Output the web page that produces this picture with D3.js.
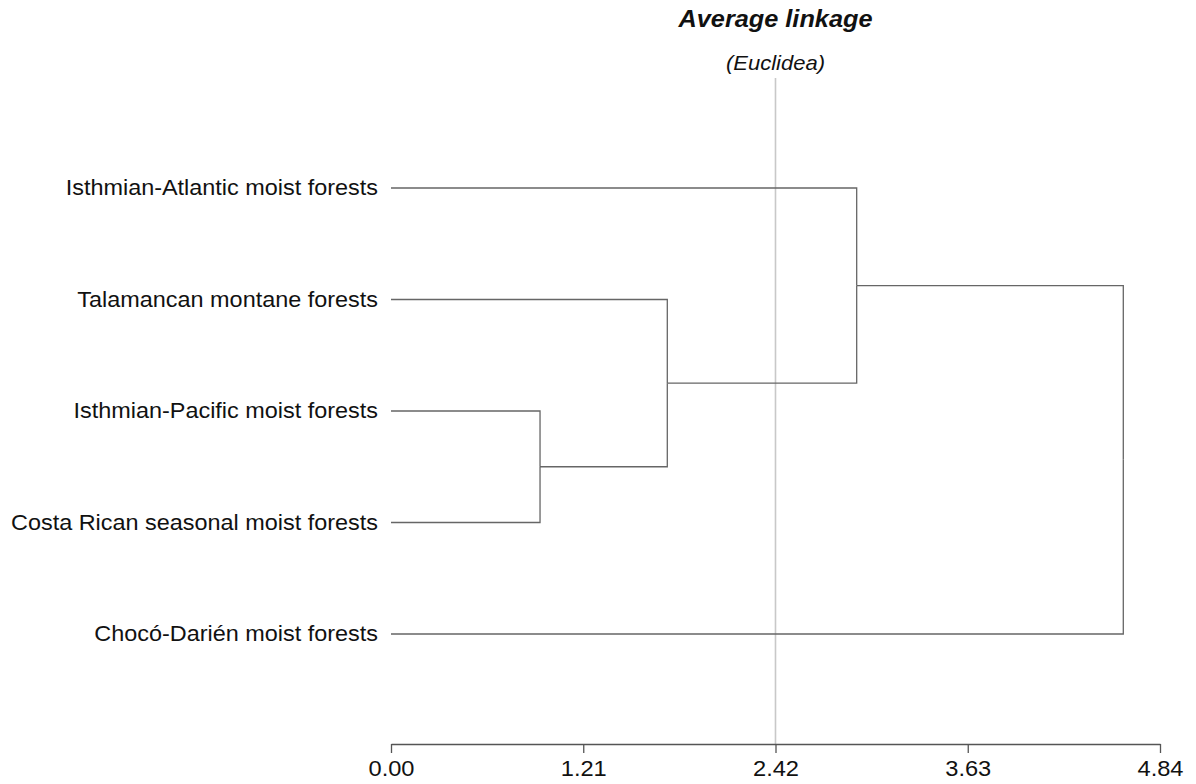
<!DOCTYPE html>
<html>
<head>
<meta charset="utf-8">
<script src="https://cdn.jsdelivr.net/npm/d3@7"></script>
<style>
  html, body { margin: 0; padding: 0; background: #fff; }
  svg { display: block; font-family: "Liberation Sans", Arial, sans-serif; }
</style>
</head>
<body>
<svg id="chart" width="1196" height="784"></svg>
<script>
// Leaf labels, top to bottom
const leaves = [
  "Isthmian-Atlantic moist forests",
  "Talamancan montane forests",
  "Isthmian-Pacific moist forests",
  "Costa Rican seasonal moist forests",
  "Chocó-Darién moist forests"
];
// Agglomeration steps (hclust style: negative = leaf index, positive = earlier step)
const mergeA = [-3, -2, -1, 3];
const mergeB = [-4, 1, 2, -5];
const mergeHeight = [0.938, 1.739, 2.931, 4.609];
// Axis
const axisTicks = [0.00, 1.21, 2.42, 3.63, 4.84];
const refLine = 2.42;

const svg = d3.select("#chart");
const x = d3.scaleLinear().domain([0, 4.84]).range([391, 1160]);
const y = d3.scaleLinear().domain([0, leaves.length + 1]).range([76.5, 745.5]);
const textStretch = 1.1;

// Build nested tree from the merge table
const steps = [];
function ref(v) {
  return v < 0 ? { name: leaves[-v - 1], order: -v, height: 0 } : steps[v - 1];
}
mergeA.forEach((a, i) => {
  steps.push({ height: mergeHeight[i], children: [ref(a), ref(mergeB[i])] });
});
const root = d3.hierarchy(steps[steps.length - 1]);

// Positions: leaves at their order, inner nodes at the mid-point of children
root.eachAfter(n => {
  n.px = x(n.data.height);
  if (!n.children) n.py = y(n.data.order);
  else n.py = d3.mean(n.children, c => c.py);
});

// Reference line
svg.append("line")
  .attr("x1", x(refLine)).attr("x2", x(refLine))
  .attr("y1", 78).attr("y2", y(leaves.length + 1) - 1.5)
  .attr("stroke", "#c8c8c8").attr("stroke-width", 1.6);

// Dendrogram links (elbows)
const g = svg.append("g")
  .attr("fill", "none").attr("stroke", "#666").attr("stroke-width", 1.3);
root.descendants().filter(n => n.parent).forEach(n => {
  g.append("path")
    .attr("d", `M${n.px},${n.py}H${n.parent.px}V${n.parent.py}`);
});

// Leaf labels
root.leaves().forEach(n => {
  svg.append("text")
    .attr("transform", `translate(378,${n.py + 7}) scale(${textStretch},1)`)
    .attr("text-anchor", "end")
    .attr("font-size", 21.3)
    .attr("fill", "#111")
    .text(n.data.name);
});

// Bottom axis
const axisY = y(leaves.length + 1) - 1.5;
const ax = svg.append("g").attr("transform", `translate(0,${axisY})`)
  .call(d3.axisBottom(x).tickValues(axisTicks).tickFormat(d3.format(".2f"))
    .tickSize(9).tickSizeOuter(0).tickPadding(0));
ax.select(".domain").attr("stroke", "#555").attr("stroke-width", 1.3);
ax.selectAll(".tick line").attr("stroke", "#555").attr("stroke-width", 1.3);
ax.selectAll(".tick text")
  .attr("y", 32.5).attr("dy", null).attr("x", 0)
  .attr("transform", `scale(${textStretch},1)`)
  .attr("font-size", 21.5)
  .attr("font-family", "\"Liberation Sans\", Arial, sans-serif")
  .attr("fill", "#111");

// Titles
svg.append("text")
  .attr("transform", `translate(${x(refLine)},27) scale(${textStretch},1)`)
  .attr("text-anchor", "middle")
  .attr("font-size", 23).attr("font-weight", "bold").attr("font-style", "italic")
  .attr("fill", "#111")
  .text("Average linkage");
svg.append("text")
  .attr("transform", `translate(${x(refLine)},70) scale(${textStretch},1)`)
  .attr("text-anchor", "middle")
  .attr("font-size", 20).attr("font-style", "italic")
  .attr("fill", "#111")
  .text("(Euclidea)");
</script>
</body>
</html>
